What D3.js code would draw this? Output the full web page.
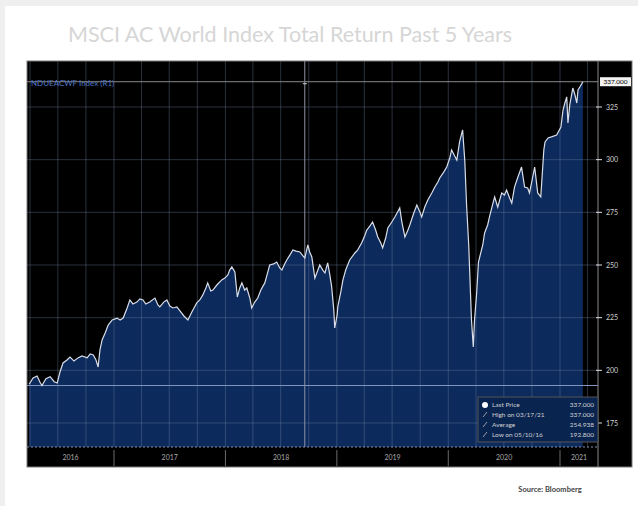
<!DOCTYPE html>
<meta charset="utf-8">
<html>
<head>
<script src="https://d3js.org/d3.v7.min.js"></script>
<style>
  body { margin: 0; background: #efefef; }
  svg { display: block; }
</style>
</head>
<body>
<svg id="chart" width="638" height="506"></svg>
<script>
// index level (approx. one point every ~10 days)
var dates = [
  "2016-03-29","2016-04-11","2016-04-24","2016-05-04","2016-05-10","2016-05-23","2016-06-06","2016-06-19","2016-06-29",
  "2016-07-08","2016-07-18","2016-07-31","2016-08-10","2016-08-23","2016-09-05","2016-09-18","2016-10-05","2016-10-15",
  "2016-10-25","2016-11-03","2016-11-10","2016-11-16","2016-11-23","2016-12-03","2016-12-13","2016-12-26",
  "2017-01-11","2017-01-21","2017-01-31","2017-02-13","2017-02-22","2017-03-04","2017-03-17","2017-03-27","2017-04-06",
  "2017-04-15","2017-04-28","2017-05-15","2017-05-25","2017-05-31","2017-06-13","2017-06-23","2017-07-03","2017-07-13",
  "2017-07-26","2017-08-05","2017-08-18","2017-08-31","2017-09-13","2017-09-29","2017-10-09","2017-10-19","2017-10-29",
  "2017-11-04","2017-11-14","2017-11-21","2017-12-04","2017-12-20","2017-12-30",
  "2018-01-09","2018-01-15","2018-01-22","2018-02-01","2018-02-09","2018-02-17","2018-02-24","2018-03-05","2018-03-12",
  "2018-03-22","2018-03-28","2018-04-07","2018-04-17","2018-04-27","2018-05-10","2018-05-20","2018-05-26","2018-06-08",
  "2018-06-18","2018-06-28","2018-07-05","2018-07-14","2018-07-21","2018-07-31","2018-08-10","2018-08-20","2018-09-02",
  "2018-09-12","2018-09-18","2018-09-28","2018-10-04","2018-10-11","2018-10-21","2018-10-31","2018-11-06","2018-11-16",
  "2018-11-23","2018-12-02","2018-12-09","2018-12-15","2018-12-22","2018-12-25",
  "2019-01-02","2019-01-04","2019-01-14","2019-01-21","2019-01-30","2019-02-12","2019-03-01","2019-03-10","2019-03-23",
  "2019-04-02","2019-04-09","2019-04-19","2019-04-28","2019-05-08","2019-05-15","2019-05-25","2019-05-31","2019-06-10",
  "2019-06-17","2019-06-30","2019-07-10","2019-07-19","2019-07-26","2019-08-02","2019-08-12","2019-08-22","2019-08-28",
  "2019-09-10","2019-09-20","2019-09-30","2019-10-06","2019-10-16","2019-10-26","2019-11-08","2019-11-18","2019-11-28",
  "2019-12-04","2019-12-17","2019-12-27",
  "2020-01-06","2020-01-12","2020-01-22","2020-01-29","2020-02-07","2020-02-17","2020-02-24","2020-03-01","2020-03-08",
  "2020-03-11","2020-03-17","2020-03-23","2020-03-27","2020-04-03","2020-04-09","2020-04-13","2020-04-23","2020-04-29",
  "2020-05-09","2020-05-15","2020-05-25","2020-06-01","2020-06-11","2020-06-24","2020-07-03","2020-07-10","2020-07-20",
  "2020-07-27","2020-08-05","2020-08-15","2020-08-28","2020-09-07","2020-09-17","2020-09-23","2020-10-03","2020-10-10",
  "2020-10-20","2020-10-30","2020-11-09","2020-11-13","2020-11-23","2020-12-04","2020-12-21",
  "2021-01-04","2021-01-11","2021-01-17","2021-01-23","2021-01-27","2021-02-02","2021-02-12","2021-02-19","2021-02-25",
  "2021-03-01","2021-03-07","2021-03-17"
];
var prices = [
  193.4,196.4,197.3,194.2,192.8,196.0,197.0,194.6,194.0,
  199.2,203.5,204.9,206.3,204.4,205.9,206.8,205.9,207.8,
  207.3,204.9,201.6,209.7,214.4,217.7,221.5,223.9,
  224.8,223.9,224.8,229.6,233.4,231.5,232.4,233.9,233.4,
  231.5,232.4,234.3,231.0,230.1,232.4,233.4,230.5,229.6,
  230.1,228.2,225.8,223.9,227.7,232.0,233.4,235.8,239.1,
  241.5,237.7,238.1,240.5,242.9,243.8,
  245.3,247.6,249.1,246.7,234.8,239.1,241.5,238.1,239.1,
  234.3,229.6,232.4,234.3,238.1,241.5,246.7,250.0,250.5,
  251.4,248.6,247.6,250.5,252.4,254.7,257.1,256.6,256.2,
  254.3,253.3,259.5,256.2,253.8,243.8,247.6,250.0,247.6,
  246.2,251.0,245.3,239.6,228.6,220.1,
  226.3,230.1,237.2,242.9,247.6,252.4,255.7,257.1,260.4,
  263.8,266.6,268.5,270.4,266.6,263.3,260.4,258.1,262.8,
  267.6,270.4,272.8,275.2,277.1,270.4,263.3,266.6,269.0,
  274.7,278.5,275.2,272.8,277.5,280.9,284.2,287.0,289.4,
  291.3,294.1,296.5,
  300.8,304.6,301.7,299.8,308.4,314.1,299.8,278.5,259.5,
  247.6,223.9,211.1,223.9,236.7,251.4,253.8,259.5,265.2,
  269.0,272.8,278.5,282.3,277.5,284.2,283.2,285.6,281.8,
  279.4,287.0,291.3,296.5,287.0,286.6,284.2,291.3,296.5,
  284.2,282.3,304.6,308.4,310.3,310.8,311.7,
  315.5,323.6,326.9,329.8,317.4,326.0,334.0,330.7,326.9,
  333.1,334.5,337.0
];
var yTicks = [175, 200, 225, 250, 275, 300, 325];
var yearLabels = ["2016", "2017", "2018", "2019", "2020", "2021"];
var titleText = "MSCI AC World Index Total Return Past 5 Years";
var seriesName = "NDUEACWF Index (R1)";
var cursorDate = "2018-09-18";

function drawChart() {
    var svg = d3.select("#chart");
    var parse = d3.timeParse("%Y-%m-%d");
    var data = dates.map(function (d, i) { return { date: parse(d), value: prices[i] }; });

    // panel / plot box
    var left = 27, right = 598, top = 61, bottom = 447, panelRight = 632, panelBottom = 467;

    var x = d3.scaleTime()
        .domain([parse("2017-01-01"), parse("2021-01-01")])
        .range([114, 560]);
    var y = d3.scaleLinear()
        .domain([175, 325])
        .range([423, 107]);

    // page
    svg.append("rect").attr("x", 5).attr("y", 6).attr("width", 633).attr("height", 500).attr("fill", "#fff");

    svg.append("text")
        .attr("x", 290).attr("y", 42)
        .attr("text-anchor", "middle")
        .attr("font-family", "Lato, 'Open Sans', sans-serif")
        .attr("font-size", 21.5)
        .attr("fill", "#d6d6d6")
        .text(titleText);

    svg.append("rect")
        .attr("x", left).attr("y", top)
        .attr("width", panelRight - left).attr("height", panelBottom - top)
        .attr("fill", "#000").attr("stroke", "#7a7a7a").attr("stroke-width", 1);

    svg.append("clipPath").attr("id", "plotclip")
        .append("rect").attr("x", left).attr("y", top).attr("width", right - left).attr("height", bottom - top);

    var plot = svg.append("g").attr("clip-path", "url(#plotclip)");

    var area = d3.area()
        .x(function (d) { return x(d.date); })
        .y0(bottom)
        .y1(function (d) { return y(d.value); });
    var line = d3.line()
        .x(function (d) { return x(d.date); })
        .y(function (d) { return y(d.value); });

    plot.append("path").datum(data).attr("d", area).attr("fill", "#0c2a5c");

    // grid on top of the area, faint
    var grid = plot.append("g").attr("stroke", "#7688a8").attr("stroke-opacity", 0.45).attr("stroke-width", 0.8);
    grid.selectAll("line.h").data(yTicks).enter().append("line")
        .attr("x1", left).attr("x2", right)
        .attr("y1", function (d) { return y(d); }).attr("y2", function (d) { return y(d); });
    var quarters = d3.timeMonth.every(3).range(x.invert(left), x.invert(right));
    grid.selectAll("line.v").data(quarters).enter().append("line")
        .attr("y1", top).attr("y2", bottom)
        .attr("x1", function (d) { return x(d); }).attr("x2", function (d) { return x(d); });

    // low / high reference lines
    var hi = d3.max(prices), lo = d3.min(prices), avg = d3.mean(prices);
    plot.append("line").attr("x1", left).attr("x2", right)
        .attr("y1", y(lo)).attr("y2", y(lo))
        .attr("stroke", "#7f95c0").attr("stroke-width", 1);
    plot.append("line").attr("x1", left).attr("x2", right)
        .attr("y1", y(hi)).attr("y2", y(hi))
        .attr("stroke", "#8a8a8a").attr("stroke-width", 1);

    // cursor line
    var cx = x(parse(cursorDate));
    plot.append("line").attr("x1", cx).attr("x2", cx).attr("y1", top).attr("y2", bottom)
        .attr("stroke", "#8f94a6").attr("stroke-width", 1);
    plot.append("line").attr("x1", cx - 2).attr("x2", cx + 2).attr("y1", y(hi) + 2).attr("y2", y(hi) + 2)
        .attr("stroke", "#cfd3dd").attr("stroke-width", 1);

    plot.append("path").datum(data).attr("d", line)
        .attr("fill", "none").attr("stroke", "#d9dee8").attr("stroke-width", 1.2);

    // dotted base of the area
    svg.append("line").attr("x1", left).attr("x2", right).attr("y1", bottom).attr("y2", bottom)
        .attr("stroke", "#8093b5").attr("stroke-width", 1).attr("stroke-dasharray", "2,2");

    svg.append("text").attr("x", 31).attr("y", 86)
        .attr("font-family", "Lato, sans-serif").attr("font-size", 8)
        .attr("fill", "#4f76c4").text(seriesName);

    // right axis
    svg.append("line").attr("x1", right).attr("x2", right).attr("y1", top).attr("y2", panelBottom)
        .attr("stroke", "#8a8a8a").attr("stroke-width", 1);
    var yAxis = svg.append("g");
    yAxis.selectAll("line").data(yTicks).enter().append("line")
        .attr("x1", right - 2).attr("x2", right + 4)
        .attr("y1", function (d) { return y(d); }).attr("y2", function (d) { return y(d); })
        .attr("stroke", "#e0e0e0");
    yAxis.selectAll("text").data(yTicks).enter().append("text")
        .attr("x", 606).attr("y", function (d) { return y(d) + 2.5; })
        .attr("font-family", "Lato, sans-serif").attr("font-size", 7)
        .attr("fill", "#d0d0d0")
        .text(function (d) { return d; });

    // last price tag
    var last = prices[prices.length - 1];
    svg.append("rect").attr("x", 600).attr("y", y(last) - 4.5).attr("width", 31).attr("height", 9)
        .attr("fill", "#f2f2f2");
    svg.append("text").attr("x", 615.5).attr("y", y(last) + 2.3).attr("text-anchor", "middle")
        .attr("font-family", "Lato, sans-serif").attr("font-size", 6.5).attr("fill", "#000")
        .text(d3.format(".3f")(last));

    // year labels and separators
    var xAxis = svg.append("g");
    yearLabels.forEach(function (yr) {
        var a = x(parse(yr + "-01-01")), b = x(parse((+yr + 1) + "-01-01"));
        var mid = (Math.max(a, left) + Math.min(b, right)) / 2;
        xAxis.append("text").attr("x", mid).attr("y", 460).attr("text-anchor", "middle")
            .attr("font-family", "Lato, sans-serif").attr("font-size", 7)
            .attr("fill", "#a8a8a8").text(yr);
        if (a > left) {
            xAxis.append("line").attr("x1", a).attr("x2", a).attr("y1", 450).attr("y2", 466)
                .attr("stroke", "#6a6a6a");
        }
    });

    // legend box
    var fmt = d3.format(".3f"), fd = d3.timeFormat("%m/%d/%y");
    var hiDate = data[d3.maxIndex(prices)].date, loDate = data[d3.minIndex(prices)].date;
    var rows = [
        ["Last Price", fmt(last)],
        ["High on " + fd(hiDate), fmt(hi)],
        ["Average", fmt(avg)],
        ["Low on " + fd(loDate), fmt(lo)]
    ];
    var lg = svg.append("g");
    lg.append("rect").attr("x", 478).attr("y", 397).attr("width", right - 478).attr("height", 45)
        .attr("fill", "#0a2450").attr("stroke", "#555").attr("stroke-width", 1);
    lg.append("circle").attr("cx", 485).attr("cy", 405).attr("r", 3).attr("fill", "#fff");
    rows.forEach(function (r, i) {
        var ry = 407 + i * 10;
        if (i > 0) {
            lg.append("line").attr("x1", 483).attr("x2", 487).attr("y1", ry).attr("y2", ry - 5)
                .attr("stroke", "#bbb").attr("stroke-width", 0.8);
        }
        lg.append("text").attr("x", 492).attr("y", ry)
            .attr("font-family", "Lato, sans-serif").attr("font-size", 6.5).attr("fill", "#d0d0d0").text(r[0]);
        lg.append("text").attr("x", 594).attr("y", ry).attr("text-anchor", "end")
            .attr("font-family", "Lato, sans-serif").attr("font-size", 6.5).attr("fill", "#d0d0d0").text(r[1]);
    });

    svg.append("text").attr("x", 550).attr("y", 492).attr("text-anchor", "middle")
        .attr("font-family", "Lato, sans-serif").attr("font-size", 7.5).attr("font-weight", "bold")
        .attr("fill", "#444").text("Source: Bloomberg");
}

drawChart();
</script>
</body>
</html>
